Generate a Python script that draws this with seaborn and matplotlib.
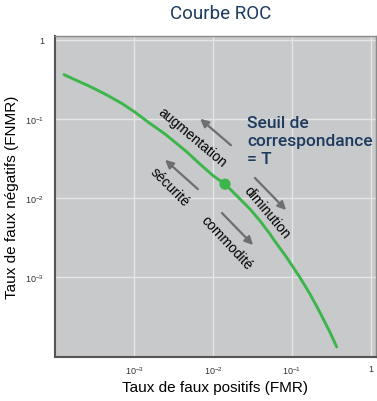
import numpy as np
import pandas as pd
import matplotlib
matplotlib.use('Agg')
import matplotlib.pyplot as plt
import seaborn as sns

# ROC curve (log-log)
fmr = [1.30e-4, 1.79e-4, 2.64e-4, 4.30e-4, 6.98e-4, 1.03e-3, 1.52e-3, 2.47e-3, 3.14e-3,
       4.64e-3, 6.84e-3, 1.01e-2, 1.42e-2, 2.00e-2, 2.94e-2, 3.93e-2, 5.27e-2, 5.80e-2,
       8.57e-2, 0.126, 0.169, 0.226, 0.303, 0.368]
fnmr = [0.364, 0.314, 0.264, 0.207, 0.158, 0.122, 0.0908, 0.0646, 0.0531,
        0.0385, 0.0269, 0.0191, 0.0150, 0.0107, 0.00726, 0.00516, 0.00350, 0.00303,
        0.00177, 9.91e-4, 6.10e-4, 3.57e-4, 2.00e-4, 1.31e-4]

# operating point T
threshold_fmr = [0.0142]
threshold_fnmr = [0.0150]

x_ticks = [1e-3, 1e-2, 1e-1, 1]
x_tick_labels = ['$10^{-3}$', '$10^{-2}$', '$10^{-1}$', '1']
y_ticks = [1, 1e-1, 1e-2, 1e-3]
y_tick_labels = ['1', '$10^{-1}$', '$10^{-2}$', '$10^{-3}$']

navy = '#1d3a5f'
green = '#3cb64a'
arrow_grey = '#6e6e6e'

sns.set_style('white')
plt.rcParams['font.family'] = ['Liberation Sans', 'DejaVu Sans']
plt.rcParams['mathtext.fontset'] = 'custom'
plt.rcParams['mathtext.rm'] = 'Liberation Sans'

fig = plt.figure(figsize=(3.77, 4.02), dpi=100)
ax = fig.add_axes([55 / 377, 44 / 402, 321 / 377, 321 / 402])
ax.set_facecolor('#c8c9cb')

df = pd.DataFrame({'fmr': fmr, 'fnmr': fnmr})
sns.lineplot(data=df, x='fmr', y='fnmr', sort=False, color=green, lw=2.1, ax=ax, zorder=3)
sns.scatterplot(x=threshold_fmr, y=threshold_fnmr, color=green, s=65, edgecolor='none', ax=ax, zorder=4)

ax.set_xscale('log')
ax.set_yscale('log')
ax.set_xlim(1e-4, 10 ** 0.063)
ax.set_ylim(10 ** -4.01, 10 ** 0.05)
ax.set_xticks(x_ticks)
ax.set_xticklabels(x_tick_labels)
ax.set_yticks(y_ticks)
ax.set_yticklabels(y_tick_labels)
ax.minorticks_off()
ax.tick_params(length=0, labelsize=6.5, colors='#333333')
ax.tick_params(axis='x', pad=5)
ax.tick_params(axis='y', pad=8)
ax.grid(True, color='#e6e6e6', lw=1)

for side in ['left', 'bottom']:
    ax.spines[side].set_color('#555555')
    ax.spines[side].set_linewidth(1.5)
for side in ['top', 'right']:
    ax.spines[side].set_color('#8a8a8a')
    ax.spines[side].set_linewidth(1)

ax.set_xlabel('Taux de faux positifs (FMR)', fontsize=11, color='black', labelpad=3)
ax.set_ylabel('Taux de faux négatifs (FNMR)', fontsize=11, color='black', labelpad=4)
fig.text(0.585, 0.965, 'Courbe ROC', fontsize=13.5, color=navy, ha='center', va='center',
         family=['Roboto', 'DejaVu Sans'])

# arrows (axes fraction)
arrows = [((0.5545, 0.6542), (0.4455, 0.7477)),
          ((0.4517, 0.5171), (0.3364, 0.6199)),
          ((0.6168, 0.5639), (0.7259, 0.4517)),
          ((0.5140, 0.4548), (0.6231, 0.3427))]
for tail, head in arrows:
    ax.annotate('', xy=head, xytext=tail, xycoords='axes fraction', textcoords='axes fraction',
                arrowprops=dict(arrowstyle='-|>', color=arrow_grey, lw=1.6, mutation_scale=12))

labels = [('augmentation', 0.4268, 0.6854, -40),
          ('sécurité', 0.3583, 0.5327, -45),
          ('diminution', 0.6604, 0.4517, -50),
          ('commodité', 0.5358, 0.3583, -47)]
for txt, fx, fy, rot in labels:
    ax.text(fx, fy, txt, transform=ax.transAxes, rotation=rot, rotation_mode='anchor',
            ha='center', va='center', fontsize=10, color='black')

ax.text(0.598, 0.755, 'Seuil de\ncorrespondance\n= T', transform=ax.transAxes,
        ha='left', va='top', fontsize=12.5, color=navy, linespacing=1.25,
        family=['Roboto', 'DejaVu Sans'], fontweight='medium')

fig.savefig('out.png', dpi=100)
